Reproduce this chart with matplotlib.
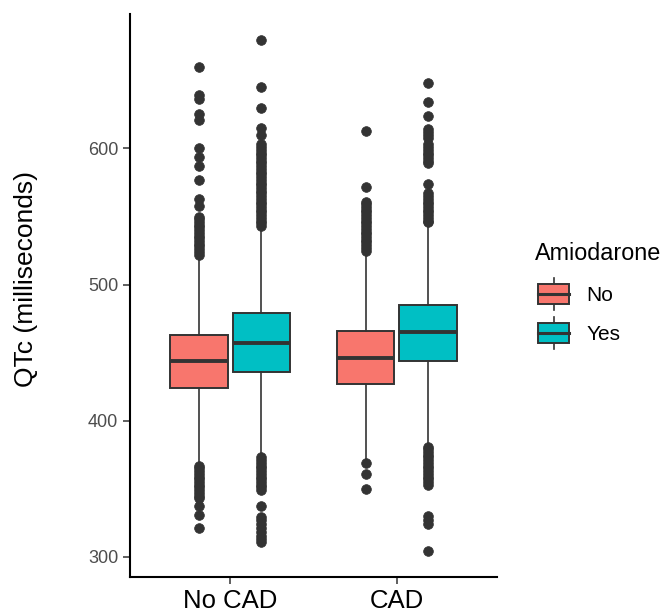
import numpy as np
import matplotlib.pyplot as plt
from matplotlib.patches import Rectangle
from matplotlib.lines import Line2D
from matplotlib.legend_handler import HandlerBase

plt.rcParams['font.family'] = ['Liberation Sans', 'DejaVu Sans']

groups = ['No CAD', 'CAD']
amio_levels = ['No', 'Yes']
colors = {'No': '#F8766D', 'Yes': '#00BFC4'}

# box stats (QTc, ms): [No CAD, CAD]
q1 = {'No': [424, 427], 'Yes': [436, 444]}
med = {'No': [444, 446], 'Yes': [457, 465]}
q3 = {'No': [463, 466], 'Yes': [479, 485]}
whislo = {'No': [369, 372], 'Yes': [374, 384]}
whishi = {'No': [520, 523], 'Yes': [542, 545]}

# outliers
fliers_nocad_no = [660, 639, 636, 625, 621, 600, 594, 587, 577, 563, 558,
                   550, 548, 546, 544, 542, 540, 538, 536, 534, 532, 530, 528, 526, 524, 522,
                   367, 365, 363, 361, 359, 357, 355, 353, 351, 349, 347, 345, 343, 337, 331, 321]
fliers_nocad_yes = [680, 645, 630, 615, 610, 603, 601, 599, 597, 595, 593, 591, 589, 587, 585,
                    583, 581, 579, 577, 575, 573, 571, 569, 567, 565, 563, 561, 559, 557, 555,
                    553, 551, 549, 547, 545, 543,
                    373, 371, 369, 367, 365, 363, 361, 359, 357, 355, 353, 351, 349,
                    337, 329, 327, 324, 321, 318, 315, 313, 311]
fliers_cad_no = [613, 572, 561, 559, 557, 555, 553, 551, 549, 547, 545, 543, 541, 539, 537,
                 535, 533, 531, 529, 527, 525, 369, 361, 350]
fliers_cad_yes = [648, 634, 624, 614, 612, 610, 608, 603, 601, 599, 597, 595, 593, 591, 589,
                  574, 567, 565, 563, 561, 559, 557, 555, 553, 551, 549, 547, 546,
                  381, 379, 377, 375, 373, 371, 369, 367, 365, 363, 361, 359, 357, 355, 353,
                  330, 327, 324, 304]
fliers = {'No': [fliers_nocad_no, fliers_cad_no], 'Yes': [fliers_nocad_yes, fliers_cad_yes]}

fig = plt.figure(figsize=(6.66, 6.14), dpi=100)
ax = fig.add_axes([130 / 666, 1 - 577 / 614, 367 / 666, 563 / 614])

dodge = 0.1875
for k, lev in enumerate(amio_levels):
    stats = []
    for i in range(len(groups)):
        stats.append(dict(med=med[lev][i], q1=q1[lev][i], q3=q3[lev][i],
                          whislo=whislo[lev][i], whishi=whishi[lev][i],
                          fliers=fliers[lev][i]))
    pos = np.arange(1, len(groups) + 1) + (2 * k - 1) * dodge
    ax.bxp(stats, positions=pos, widths=0.345, patch_artist=True, showcaps=False,
           boxprops=dict(facecolor=colors[lev], edgecolor='#333333', linewidth=1.4),
           medianprops=dict(color='#333333', linewidth=2.8, solid_capstyle='butt'),
           whiskerprops=dict(color='#333333', linewidth=1.2),
           flierprops=dict(marker='o', markersize=7, markerfacecolor='#333333',
                           markeredgecolor='#333333', markeredgewidth=0.5))

ax.set_xlim(0.4, 2.6)
ax.set_ylim(285.2, 698.8)
ax.set_xticks([1, 2])
ax.set_xticklabels(groups, fontsize=18.5, color='black')
ax.set_yticks([300, 400, 500, 600])
ax.tick_params(axis='y', labelsize=13, labelcolor='#4D4D4D', color='#333333', length=5, width=1.1)
ax.tick_params(axis='x', color='#333333', length=5, width=1.1, pad=3.5)
ax.set_ylabel('QTc (milliseconds)', fontsize=19)
ax.yaxis.set_label_coords(-0.25, 0.529)
for s in ['top', 'right']:
    ax.spines[s].set_visible(False)
for s in ['left', 'bottom']:
    ax.spines[s].set_linewidth(1.5)
    ax.spines[s].set_color('black')


class BoxKey(HandlerBase):
    def create_artists(self, legend, orig_handle, xdescent, ydescent, width, height, fontsize, trans):
        x0, y0 = -xdescent, -ydescent
        pad = height * 0.19
        xm = x0 + width / 2
        arts = [Line2D([xm, xm], [y0, y0 + height], color='#333333', lw=1.2),
                Rectangle((x0, y0 + pad), width, height - 2 * pad,
                          facecolor=orig_handle.get_facecolor(), edgecolor='#333333', lw=1.4),
                Line2D([x0, x0 + width], [y0 + height / 2] * 2, color='#333333', lw=2.2)]
        for a in arts:
            a.set_transform(trans)
        return arts


fig.text(535 / 666, 1 - 260 / 614, 'Amiodarone', fontsize=16.8, ha='left', va='baseline')
handles = [Rectangle((0, 0), 1, 1, facecolor=colors[l]) for l in amio_levels]
leg = fig.legend(handles, amio_levels, handler_map={Rectangle: BoxKey()},
                 loc='upper left', bbox_to_anchor=(538 / 666, 1 - 278 / 614),
                 frameon=False, fontsize=15,
                 handlelength=1.49, handleheight=1.99, labelspacing=0.33,
                 handletextpad=0.85, borderpad=0, borderaxespad=0)

fig.savefig('out.png', dpi=100)
